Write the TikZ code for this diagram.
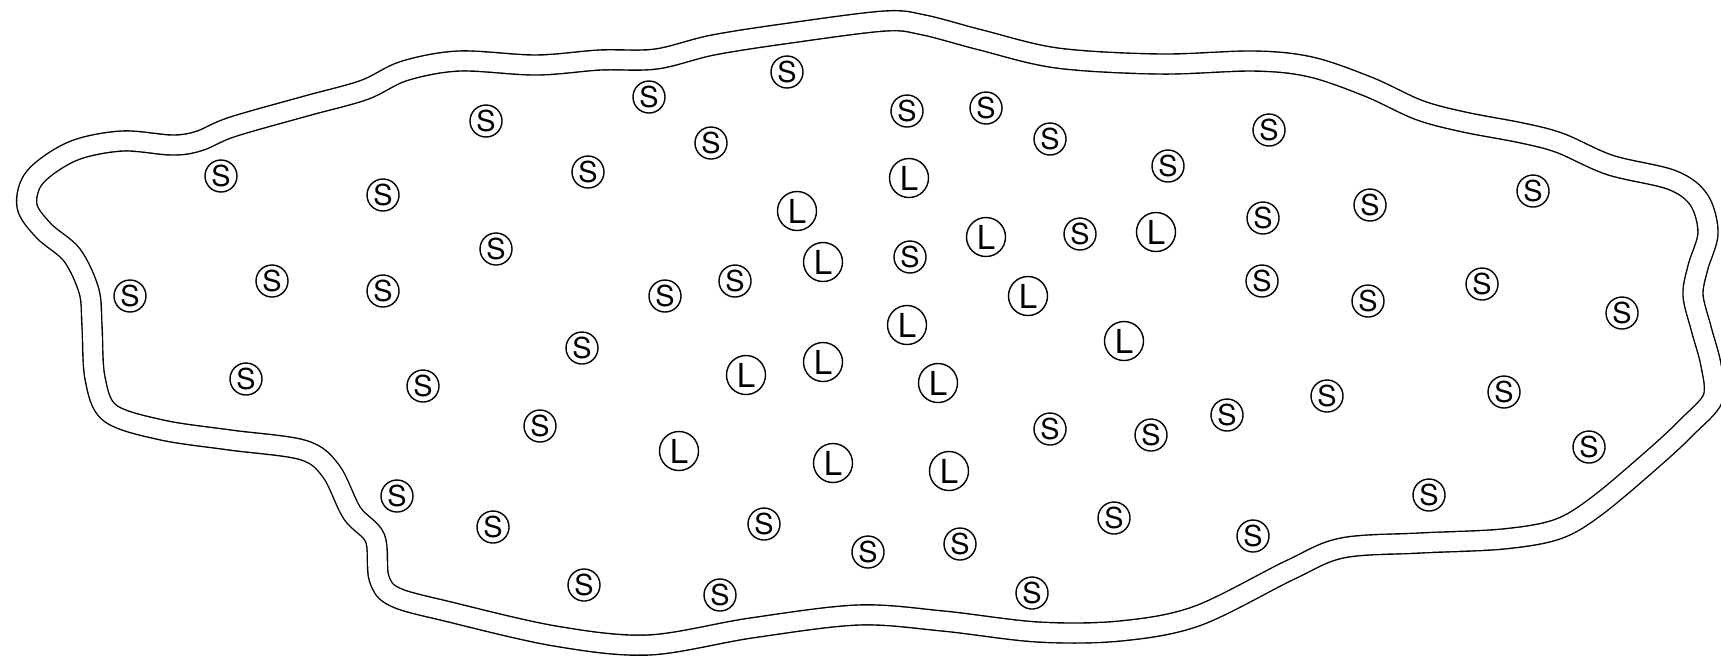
\documentclass[tikz,border=0pt]{standalone}
\usepackage{fontspec}
\setmainfont{TeX Gyre Heros}
\tikzstyle{smallmol} = [circle, draw=black, line width=0.4pt, minimum size=0.32cm, inner sep=0pt, font=\fontsize{8.2}{8.2}\selectfont]
\tikzstyle{largemol} = [circle, draw=black, line width=0.4pt, minimum size=0.39cm, inner sep=0pt, font=\fontsize{9.4}{9.4}\selectfont]
\tikzstyle{wall} = [draw=black, line width=0.4pt, double=white, double distance=0.186cm]

\begin{document}
\begin{tikzpicture}[x=0.01cm, y=-0.01cm]
    \useasboundingbox (0,0) rectangle (1721,656);

    % Membrane
    \draw [wall] plot [smooth cycle, tension=0.55] coordinates {
        (27,206) (35,177) (73,151) (122,141) (172,145) (199,141) (232,127)
        (306,106) (364,90) (404,71) (459,61) (536,65) (600,60) (656,59)
        (713,45) (790,33) (885,21) (924,25) (981,40) (1057,58) (1160,64)
        (1254,61) (1311,67) (1369,87) (1419,110) (1464,122) (1522,133)
        (1560,143) (1610,165) (1672,180) (1699,200) (1708,233) (1698,267)
        (1693,295) (1701,328) (1711,365) (1713,398) (1688,426) (1656,456)
        (1598,505) (1558,529) (1503,539) (1420,543) (1342,548) (1290,570)
        (1197,616) (1120,631) (1038,632) (943,621) (858,615) (751,628)
        (648,645) (555,636) (450,612) (395,597) (379,578) (375,538)
        (352,513) (331,471) (303,450) (230,440) (162,430) (110,413)
        (95,378) (92,326) (89,291) (72,255) (44,231)};

    % Small molecules
    \node (s1) [smallmol] at (787,72) {S};
    \node (s2) [smallmol] at (649,97) {S};
    \node (s3) [smallmol] at (486,121) {S};
    \node (s4) [smallmol] at (711,143) {S};
    \node (s5) [smallmol] at (907,111) {S};
    \node (s6) [smallmol] at (986,108) {S};
    \node (s7) [smallmol] at (1050,139) {S};
    \node (s8) [smallmol] at (1269,130) {S};
    \node (s9) [smallmol] at (1168,166) {S};
    \node (s10) [smallmol] at (221,176) {S};
    \node (s11) [smallmol] at (383,195) {S};
    \node (s12) [smallmol] at (588,172) {S};
    \node (s13) [smallmol] at (1533,191) {S};
    \node (s14) [smallmol] at (1370,205) {S};
    \node (s15) [smallmol] at (1263,218) {S};
    \node (s16) [smallmol] at (1080,234) {S};
    \node (s17) [smallmol] at (496,249) {S};
    \node (s18) [smallmol] at (910,257) {S};
    \node (s19) [smallmol] at (272,281) {S};
    \node (s20) [smallmol] at (130,296) {S};
    \node (s21) [smallmol] at (383,291) {S};
    \node (s22) [smallmol] at (665,296) {S};
    \node (s23) [smallmol] at (735,281) {S};
    \node (s24) [smallmol] at (1262,281) {S};
    \node (s25) [smallmol] at (1368,301) {S};
    \node (s26) [smallmol] at (1482,284) {S};
    \node (s27) [smallmol] at (1622,313) {S};
    \node (s28) [smallmol] at (582,348) {S};
    \node (s29) [smallmol] at (246,379) {S};
    \node (s30) [smallmol] at (423,386) {S};
    \node (s31) [smallmol] at (1327,396) {S};
    \node (s32) [smallmol] at (1504,392) {S};
    \node (s33) [smallmol] at (540,426) {S};
    \node (s34) [smallmol] at (1050,429) {S};
    \node (s35) [smallmol] at (1151,435) {S};
    \node (s36) [smallmol] at (1227,415) {S};
    \node (s37) [smallmol] at (1589,447) {S};
    \node (s38) [smallmol] at (397,496) {S};
    \node (s39) [smallmol] at (493,527) {S};
    \node (s40) [smallmol] at (1429,495) {S};
    \node (s41) [smallmol] at (764,524) {S};
    \node (s42) [smallmol] at (868,552) {S};
    \node (s43) [smallmol] at (960,544) {S};
    \node (s44) [smallmol] at (1114,518) {S};
    \node (s45) [smallmol] at (1253,536) {S};
    \node (s46) [smallmol] at (584,585) {S};
    \node (s47) [smallmol] at (720,595) {S};
    \node (s48) [smallmol] at (1032,593) {S};

    % Large molecules
    \node (l1) [largemol] at (909,178) {L};
    \node (l2) [largemol] at (797,211) {L};
    \node (l3) [largemol] at (986,237) {L};
    \node (l4) [largemol] at (1156,232) {L};
    \node (l5) [largemol] at (823,262) {L};
    \node (l6) [largemol] at (1028,296) {L};
    \node (l7) [largemol] at (907,325) {L};
    \node (l8) [largemol] at (1124,341) {L};
    \node (l9) [largemol] at (746,375) {L};
    \node (l10) [largemol] at (823,362) {L};
    \node (l11) [largemol] at (938,383) {L};
    \node (l12) [largemol] at (679,451) {L};
    \node (l13) [largemol] at (833,463) {L};
    \node (l14) [largemol] at (949,471) {L};
\end{tikzpicture}
\end{document}
